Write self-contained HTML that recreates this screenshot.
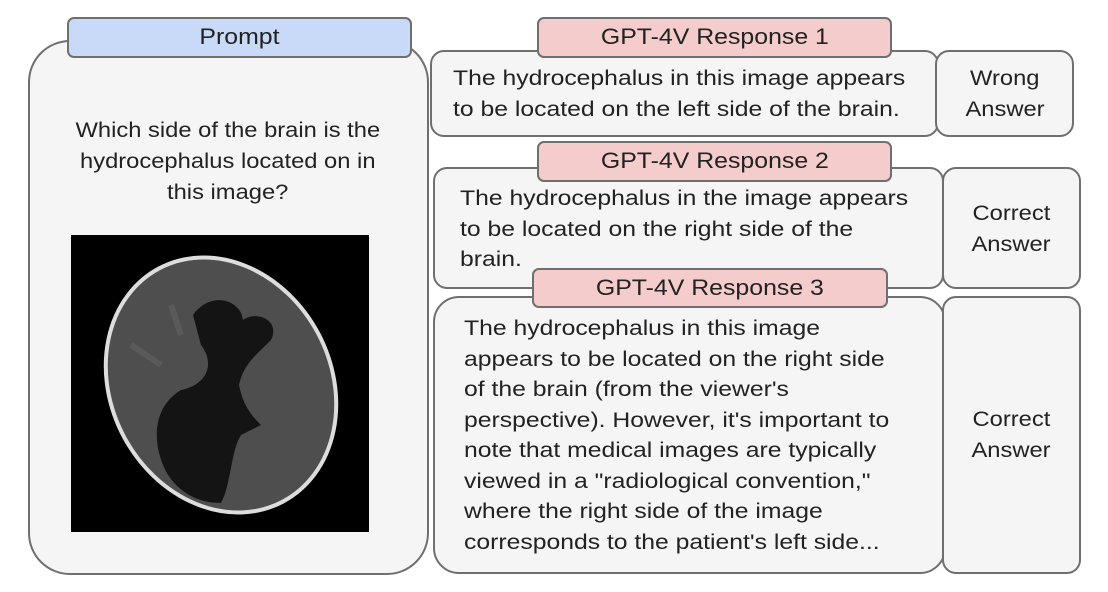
<!DOCTYPE html>
<html><head><meta charset="utf-8"><style>
body{margin:0;width:1108px;height:592px;background:#fff;position:relative;overflow:hidden;font-family:"Liberation Sans",Arial,sans-serif;color:#222}
.b{position:absolute;box-sizing:border-box;border:2px solid #6f6f6f;background:#f5f5f5;border-radius:14px}
.lab{position:absolute;box-sizing:border-box;border:2px solid #6f6f6f;border-radius:7px;text-align:center;font-size:22px;line-height:36px;color:#222}
.lab span,.c span{display:inline-block;transform:scaleX(1.13)}
.t{position:absolute;font-size:21.5px;line-height:30.5px;color:#222;transform:scaleX(1.15);transform-origin:0 0;white-space:nowrap}
.c{position:absolute;text-align:center;font-size:21px;line-height:31px}
</style></head><body>
<div class="b" style="left:28px;top:40px;width:401px;height:535px;border-radius:42px"></div>
<div class="lab" style="left:67px;top:17px;width:345px;height:41px;background:#c9daf8"><span>Prompt</span></div>
<div class="c" style="left:40px;top:115px;width:376px"><span>Which side of the brain is the</span><br><span>hydrocephalus located on in</span><br><span>this image?</span></div>
<svg style="position:absolute;left:71px;top:235px" width="298" height="297" viewBox="0 0 298 297">
<rect width="298" height="297" fill="#000"/>
<ellipse cx="150" cy="150" rx="110" ry="132" transform="rotate(-28 150 150)" fill="#4e4e4e" stroke="#ddd" stroke-width="4"/>
<path d="M122 80 C140 55 170 65 172 85 C185 75 210 85 200 105 C185 120 172 130 168 150 C172 170 180 180 190 190 L170 200 C160 215 160 250 150 268 C120 268 100 250 92 230 C80 200 85 170 110 155 C135 150 145 130 130 110 Z" fill="#141414"/>
<path d="M100 70 L110 100 M60 110 L90 130" stroke="#5a5a5a" stroke-width="6"/>
</svg>
<div class="b" style="left:430px;top:50px;width:509px;height:87px"></div>
<div class="b" style="left:935px;top:50px;width:139px;height:87px"></div>
<div class="lab" style="left:537px;top:17px;width:355px;height:41px;background:#f4cccc"><span>GPT-4V Response 1</span></div>
<div class="t" style="left:453px;top:63px">The hydrocephalus in this image appears<br>to be located on the left side of the brain.</div>
<div class="c" style="left:950px;top:63px;width:110px"><span>Wrong</span><br><span>Answer</span></div>

<div class="b" style="left:433px;top:167px;width:511px;height:122px"></div>
<div class="b" style="left:942px;top:167px;width:139px;height:122px"></div>
<div class="lab" style="left:537px;top:141px;width:355px;height:41px;background:#f4cccc"><span>GPT-4V Response 2</span></div>
<div class="t" style="left:460px;top:183px">The hydrocephalus in the image appears<br>to be located on the right side of the<br>brain.</div>
<div class="c" style="left:942px;top:198px;width:139px"><span>Correct</span><br><span>Answer</span></div>

<div class="b" style="left:433px;top:296px;width:513px;height:278px;border-radius:26px"></div>
<div class="b" style="left:942px;top:296px;width:139px;height:278px"></div>
<div class="lab" style="left:532px;top:268px;width:356px;height:40px;background:#f4cccc"><span>GPT-4V Response 3</span></div>
<div class="t" style="left:464px;top:313px">The hydrocephalus in this image<br>appears to be located on the right side<br>of the brain (from the viewer's<br>perspective). However, it's important to<br>note that medical images are typically<br>viewed in a "radiological convention,"<br>where the right side of the image<br>corresponds to the patient's left side...</div>
<div class="c" style="left:942px;top:404px;width:139px"><span>Correct</span><br><span>Answer</span></div>
</body></html>
